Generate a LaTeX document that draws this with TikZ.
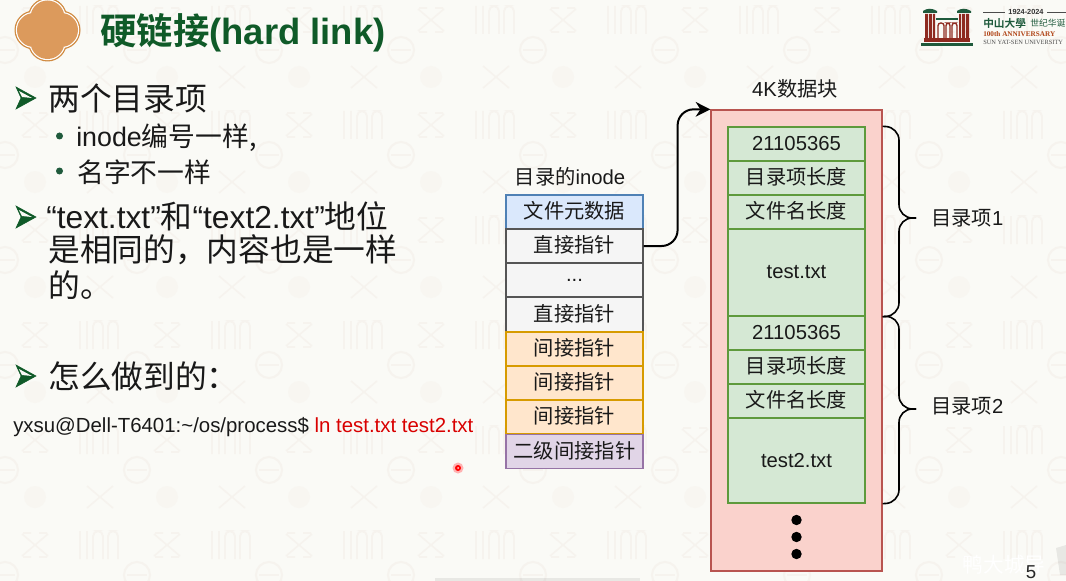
\documentclass[tikz,border=0pt]{standalone}
\usepackage{fontspec}
\usetikzlibrary{arrows.meta}
\setmainfont{Liberation Sans}
\newfontfamily\lserif{Liberation Serif}
\newfontfamily\cjk{Noto Sans CJK SC}
\newfontfamily\cjkb{Noto Sans CJK SC}[BoldFont={Noto Sans CJK SC Bold}]
\newcommand{\zh}[1]{{\cjk #1}}
\newcommand{\up}[1]{\raisebox{2.4pt}{#1}}
\newcommand{\dn}[1]{\raisebox{-2.6pt}{#1}}
\definecolor{bgc}{HTML}{FAFAF6}
\definecolor{wm}{HTML}{F6F3EE}
\definecolor{wmsoft}{HTML}{F8F6F1}
\definecolor{dkgreen}{HTML}{0F5A28}
\definecolor{orangef}{HTML}{DC9A5C}
\definecolor{orangel}{HTML}{D08A40}
\definecolor{bluef}{HTML}{DAE8FC}
\definecolor{bluel}{HTML}{4F81B5}
\definecolor{greyf}{HTML}{F5F5F5}
\definecolor{greyl}{HTML}{555555}
\definecolor{ambf}{HTML}{FFE6CC}
\definecolor{ambl}{HTML}{D79B00}
\definecolor{purf}{HTML}{E1D5E7}
\definecolor{purl}{HTML}{9673A6}
\definecolor{redf}{HTML}{FAD2CC}
\definecolor{redl}{HTML}{B85450}
\definecolor{grnf}{HTML}{D5E8D4}
\definecolor{grnl}{HTML}{5E9A3C}
\definecolor{logored}{HTML}{8E2A20}
\definecolor{logogreen}{HTML}{1F5A3C}
\tikzset{
  x=0.75pt,y=-0.75pt,
  cell/.style={draw,line width=0.9pt,minimum width=102.75pt,inner sep=0pt,font=\fontsize{15.2}{18}\selectfont\cjk,text=black!90},
  gcell/.style={draw=grnl,fill=grnf,line width=0.9pt,minimum width=102.75pt,inner sep=0pt,font=\fontsize{15.2}{18}\selectfont\cjk,text=black!90},
  lab/.style={inner sep=0pt,anchor=west,text=black!90},
  big/.style={lab,font=\fontsize{23.8}{28}\selectfont},
  mid/.style={lab,font=\fontsize{20.1}{24}\selectfont},
  small/.style={inner sep=0pt,font=\fontsize{15.2}{18}\selectfont,text=black!90},
  arrowbul/.style={fill=dkgreen,draw=dkgreen,line width=0.4pt},
}
\begin{document}
\begin{tikzpicture}
\useasboundingbox (0,0) rectangle (1066,581);
\fill[bgc] (0,0) rectangle (1066,581);
% faint watermark pattern
\foreach \r in {-1,0,1,2,3,4,5}{
 \foreach \c in {-1,0,1,2,3,4,5,6,7,8}{
  \pgfmathsetmacro{\px}{35+\c*132}
  \pgfmathsetmacro{\py}{125+\r*105}
  \draw[wm,line width=1.2pt] (\px-13,\py-11) -- (\px+13,\py+11) (\px+13,\py-11) -- (\px-13,\py+11) (\px-12,\py-12) -- (\px-4,\py-12) (\px+4,\py-12) -- (\px+12,\py-12) (\px-12,\py+12) -- (\px-4,\py+12) (\px+4,\py+12) -- (\px+12,\py+12);
  \draw[wm,line width=1.4pt,rounded corners=4pt] (\px+45,\py-14) -- (\px+45,\py+14) (\px+52,\py-14) -- (\px+52,\py+14) (\px+58,\py+14) -- (\px+58,\py-14) -- (\px+68,\py-14) -- (\px+68,\py+14) (\px+73,\py+14) -- (\px+73,\py-14) -- (\px+83,\py-14) -- (\px+83,\py+14);
  \draw[wm,line width=1.2pt] (\px+52,\py-59) -- (\px+78,\py-37) (\px+78,\py-59) -- (\px+52,\py-37);
  \fill[wmsoft] (\px,\py-48) circle (11);
  \draw[wm,line width=1.5pt] (\px-30,\py-75) circle (13);
  \draw[wm,line width=1.5pt] (\px-40,\py-75) -- (\px-20,\py-75);
 }}
% faint edge shadows
\fill[black,opacity=.07] (435,578) rectangle (640,581);
\fill[black,opacity=.07] (1056,548) -- (1066,545) -- (1066,575) -- (1060,575) -- cycle;
% title icon
\foreach \cc/\rr in {orangel/19.5,white/18.2,orangef/17}{
 \fill[\cc] (47.5,17.5) circle (\rr) (47.5,42) circle (\rr) (34,30) circle (\rr) (61,30) circle (\rr);
}
\node[inner sep=0pt,anchor=west,text=dkgreen] (title) at (100,33) {\fontsize{27.3}{30}\selectfont\bfseries{\cjkb\bfseries 硬链接}(hard link)};
% left text
\coordinate (b1) at (16,98);
\coordinate (b2) at (16,217);
\coordinate (b3) at (16,376);
\foreach \b in {b1,b2,b3}{
 \fill[arrowbul] ([shift={(0,-11)}]\b) -- ([shift={(20,0)}]\b) -- ([shift={(0,11)}]\b) -- ([shift={(5,0)}]\b) -- cycle;
 \fill[bgc] ([shift={(3,-7)}]\b) -- ([shift={(16,0)}]\b) -- ([shift={(6,-1)}]\b) -- cycle;
}
\node[big] (t1) at (48,98) {\zh{两个目录项}};
\fill[logogreen] (59.5,136) circle (3.5) (59.5,171) circle (3.5);
\node[mid] (t2) at (76,138) {inode\zh{编号一样,}};
\node[mid] (t3) at (77,172) {\zh{名字不一样}};
\node[big] (t4) at (46,216) {“text.txt”\zh{和}“text2.txt”\zh{地位}};
\node[big] (t5) at (48,250) {\zh{是相同的，内容也是一样}};
\node[big] (t6) at (48,285) {\zh{的。}};
\node[big] (t7) at (48,376) {\zh{怎么做到的：}};
\node[inner sep=0pt,anchor=west,text=black!90,font=\fontsize{15.3}{18}\selectfont] (cmd) at (13,427) {yxsu@Dell-T6401:\textasciitilde/os/process\$ \textcolor{red!85!black}{ln test.txt test2.txt}};
% laser dot
\fill[red!30] (458,468) circle (5.5);
\fill[red] (458,468) circle (3);
\fill[white!80!red] (458,468) circle (1);
% inode stack
\node[small] (ilabel) at (570,177) {\zh{目录的}inode};
\node[cell,draw=bluel,fill=bluef,minimum height=25.5pt] (meta) at (574.5,212) {\up{文件元数据}};
\node[cell,draw=greyl,fill=greyf,minimum height=25.5pt] (ptr1) at (574.5,246) {\up{直接指针}};
\node[cell,draw=greyl,fill=greyf,minimum height=25.5pt,font=\fontsize{15.2}{18}\selectfont] (ptrdots) at (574.5,280) {...};
\node[cell,draw=greyl,fill=greyf,minimum height=25.5pt] (ptr2) at (574.5,314.5) {\up{直接指针}};
\node[cell,draw=ambl,fill=ambf,minimum height=25.5pt] (ind1) at (574.5,349) {\up{间接指针}};
\node[cell,draw=ambl,fill=ambf,minimum height=25.5pt] (ind2) at (574.5,383) {\up{间接指针}};
\node[cell,draw=ambl,fill=ambf,minimum height=25.5pt] (ind3) at (574.5,417) {\up{间接指针}};
\node[cell,draw=purl,fill=purf,minimum height=25.5pt] (dbl) at (574.5,451.5) {\up{二级间接指针}};
% block
\node[small] (blabel) at (795,89) {4K\zh{数据块}};
\node[draw=redl,fill=redf,line width=1pt,minimum width=128.25pt,minimum height=345.75pt,inner sep=0pt] (block) at (796.5,340.5) {};
\node[gcell,minimum height=25.5pt,font=\fontsize{15.2}{18}\selectfont] (a1) at (796.5,144) {\raisebox{-1.2pt}{21105365}};
\node[gcell,minimum height=25.5pt] (a2) at (796.5,178) {\up{目录项长度}};
\node[gcell,minimum height=25.5pt] (a3) at (796.5,212) {\up{文件名长度}};
\node[gcell,minimum height=65.25pt,font=\fontsize{15.2}{18}\selectfont] (a4) at (796.5,272.5) {\dn{test.txt}};
\node[gcell,minimum height=25.5pt,font=\fontsize{15.2}{18}\selectfont] (b1n) at (796.5,333) {21105365};
\node[gcell,minimum height=25.5pt] (b2n) at (796.5,367) {\up{目录项长度}};
\node[gcell,minimum height=25.5pt] (b3n) at (796.5,401) {\up{文件名长度}};
\node[gcell,minimum height=63.75pt,font=\fontsize{15.2}{18}\selectfont] (b4n) at (796.5,460.5) {\raisebox{-1.4pt}{test2.txt}};
\fill[black] (796.5,520) circle (5.2) (796.5,537) circle (5.2) (796.5,554) circle (5.2);
% arrow
\draw[line width=1.5pt,rounded corners=12pt,-{Stealth[length=11pt,width=11pt]}] (ptr1.east) -- ++(34,0) |- (block.north west);
% braces
\coordinate (br1s) at (block.east |- a1.north);
\coordinate (br1e) at (block.east |- a4.south);
\coordinate (br2e) at (block.east |- b4n.south);
\node[small,anchor=west] (l1) at (931,218) {\zh{目录项}1};
\node[small,anchor=west] (l2) at (931,406) {\zh{目录项}2};
\coordinate (tip1) at (916,218);
\coordinate (tip2) at (916,409);
\draw[line width=1.2pt,rounded corners=10pt] (br1s) -- (899,127) -- (899,218) -- (tip1);
\draw[line width=1.2pt,rounded corners=10pt] (tip1) -- (899,218) -- (899,316) -- (br1e);
\draw[line width=1.2pt,rounded corners=10pt] (br1e) -- (899,316) -- (899,409) -- (tip2);
\draw[line width=1.2pt,rounded corners=10pt] (tip2) -- (899,409) -- (899,503) -- (br2e);
% logo
\fill[logogreen] (921,43) rectangle (973,46);
\fill[logored] (924,38) rectangle (970,42);
\fill[logored] (925,14) rectangle (928,38) (929,14) rectangle (932,38) (933,14) rectangle (935,38);
\fill[logored] (959,14) rectangle (961,38) (962,14) rectangle (965,38) (966,14) rectangle (969,38);
\fill[logogreen] (923,11) .. controls (927,8) and (932,8) .. (937,11) -- (937,13) -- (923,13) -- cycle;
\fill[logogreen] (957,11) .. controls (961,8) and (966,8) .. (971,11) -- (971,13) -- (957,13) -- cycle;
\fill[logogreen] (936,18) rectangle (958,20);
\draw[logored,line width=1pt,rounded corners=2pt] (938,38) -- (938,23) -- (944,23) -- (944,38) (946,38) -- (946,23) -- (950,23) -- (950,38) (952,38) -- (952,23) -- (957,23) -- (957,38);
\draw[black!70,line width=.6pt] (983,12) -- (1005,12) (1047,12) -- (1066,12);
\node[inner sep=0pt,font=\fontsize{5.5}{7}\selectfont\bfseries,text=black!80] (ly) at (1026,12) {1924-2024};
\node[inner sep=0pt,anchor=west,font=\fontsize{8}{10}\selectfont\cjkb\bfseries,text=logogreen] (lz) at (983,23) {中山大學};
\node[inner sep=0pt,anchor=west,font=\fontsize{6.6}{9}\selectfont\cjk,text=logogreen] (lz2) at (1030,23) {世纪华诞};
\node[inner sep=0pt,anchor=west,font=\fontsize{5.4}{7}\selectfont\lserif\bfseries,text=logored!70!orange] (la) at (983,34) {100th ANNIVERSARY};
\node[inner sep=0pt,anchor=west,font=\fontsize{4.8}{7}\selectfont\lserif,text=black!70] (ls) at (983,42) {SUN YAT-SEN UNIVERSITY};
% watermark + page number
\node[inner sep=0pt,text=white,font=\fontsize{15.5}{16}\selectfont\cjk] (wmk) at (1004,565) {鸭大城导};
\node[inner sep=0pt,text=black!85,font=\fontsize{14}{16}\selectfont] (pg) at (1031,572) {5};
\end{tikzpicture}
\end{document}
